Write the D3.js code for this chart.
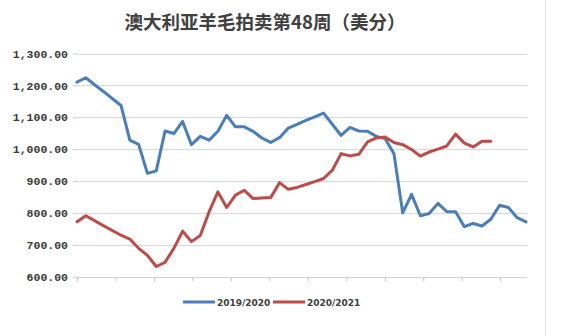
<!DOCTYPE html>
<html>
<head>
<meta charset="utf-8">
<script src="https://cdn.jsdelivr.net/npm/d3@7"></script>
<style>
  html, body { margin: 0; padding: 0; background: #fff; }
  svg { display: block; }
</style>
</head>
<body>
<svg id="chart" width="561" height="336"></svg>
<script>
// ---- data (weekly sale index, US cents) ----
const title = "澳大利亚羊毛拍卖第48周（美分）";
const seriesNames = ["2019/2020", "2020/2021"];
const weeks = d3.range(1, 53); // 52 sale weeks
const s2019 = [1210, 1224, 1202, 1181, 1159, 1137, 1028, 1015, 924, 932,
               1057, 1049, 1087, 1014, 1040, 1028, 1056, 1106, 1070, 1070,
               1056, 1035, 1021, 1036, 1066, 1078, 1090, 1101, 1113, 1078,
               1043, 1068, 1057, 1056, 1040, 1033, 986, 800, 858, 791,
               798, 830, 804, 804, 757, 767, 759, 780, 824, 817,
               785, 772];
const s2020 = [772, 791, 776, 760, 745, 730, 718, 689, 667, 632,
               645, 689, 743, 710, 729, 803, 866, 817, 856, 871,
               845, 847, 848, 895, 874, 880, 889, 898, 908, 934,
               986, 979, 984, 1023, 1035, 1038, 1021, 1014, 999, 978,
               991, 1000, 1010, 1047, 1019, 1007, 1025, 1025];
const yTicks = [600, 700, 800, 900, 1000, 1100, 1200, 1300];
const weeksPerMonth = 4.37;
const monthTicks = d3.range(0, 12).map(i => i * weeksPerMonth);

// ---- layout ----
const svg = d3.select("#chart");
const x = d3.scaleLinear().domain([0, 51]).range([77, 526]);
const y = d3.scaleLinear().domain([600, 1300]).range([276.7, 53.5]);
const colors = ["#4A7EBB", "#BE4B48"];

// title
svg.append("text")
  .attr("x", 265).attr("y", 29)
  .attr("text-anchor", "middle")
  .attr("font-family", "'Noto Sans CJK SC', sans-serif")
  .attr("font-weight", "bold")
  .attr("font-size", 18.5)
  .attr("fill", "#404040")
  .text(title);

// gridlines
svg.append("g")
  .selectAll("line")
  .data(yTicks.filter(d => d > 600))
  .join("line")
  .attr("x1", x(0)).attr("x2", 527)
  .attr("y1", d => Math.round(y(d)) + 0.5)
  .attr("y2", d => Math.round(y(d)) + 0.5)
  .attr("stroke", "#d9d9d9").attr("stroke-width", 1);

// y axis (labels + short ticks, no domain line)
const yAxis = svg.append("g")
  .attr("transform", `translate(${x(0)},0)`)
  .call(d3.axisLeft(y).tickValues(yTicks).tickFormat(d3.format(",.2f")).tickSize(4).tickPadding(5));
yAxis.select(".domain").remove();
yAxis.selectAll(".tick line").attr("stroke", "#c8c8c8");
yAxis.selectAll(".tick text")
  .attr("font-family", "'Liberation Mono', 'DejaVu Sans Mono', monospace")
  .attr("font-size", 11.5)
  .attr("font-weight", "bold")
  .attr("fill", "#3a3a3a");

// x axis
const xAxis = svg.append("g")
  .attr("transform", `translate(0,${Math.round(y(600)) + 0.5})`)
  .call(d3.axisBottom(x).tickValues(monthTicks).tickFormat("").tickSize(4).tickSizeOuter(0));
xAxis.select(".domain").attr("stroke", "#d0d0d0").attr("d", `M${x(0)},0H527`);
xAxis.selectAll(".tick line").attr("stroke", "#c8c8c8");

// lines
const line = d3.line()
  .x((d, i) => x(i))
  .y(d => y(d));
[s2019, s2020].forEach((s, k) => {
  svg.append("path")
    .datum(s)
    .attr("d", line)
    .attr("fill", "none")
    .attr("stroke", colors[k])
    .attr("stroke-width", 3)
    .attr("stroke-linejoin", "round")
    .attr("stroke-linecap", "round");
});

// legend
const legend = svg.append("g").attr("transform", "translate(0,302)");
const legendItems = [
  { name: seriesNames[0], x0: 183, color: colors[0] },
  { name: seriesNames[1], x0: 273, color: colors[1] }
];
legendItems.forEach(it => {
  legend.append("line")
    .attr("x1", it.x0).attr("x2", it.x0 + 32)
    .attr("y1", 0).attr("y2", 0)
    .attr("stroke", it.color).attr("stroke-width", 3);
  legend.append("text")
    .attr("x", it.x0 + 34).attr("y", 3.5)
    .attr("font-family", "'DejaVu Sans', sans-serif")
    .attr("font-weight", "bold")
    .attr("font-size", 9)
    .attr("fill", "#404040")
    .text(it.name);
});

// right-side frame edge seen in the screenshot
svg.append("line")
  .attr("x1", 545.5).attr("x2", 545.5)
  .attr("y1", 0).attr("y2", 336)
  .attr("stroke", "#e2e2e2").attr("stroke-width", 1);
</script>
</body>
</html>
